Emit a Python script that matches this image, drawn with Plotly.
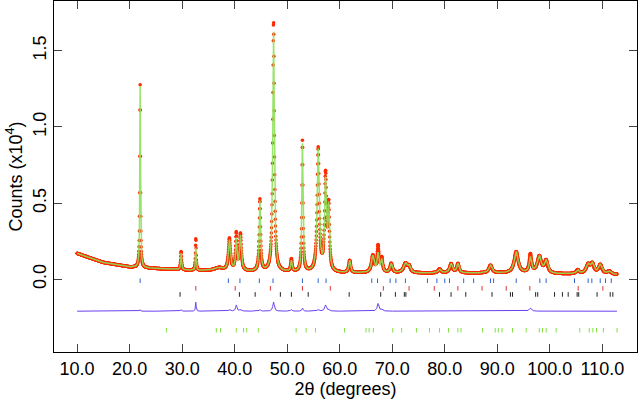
import numpy as np
import plotly.graph_objects as go

# background (2theta, counts x1e4)
bg_x = [10, 12, 15, 20, 25, 30, 35, 40, 50, 60, 70, 80, 90, 100, 112.5]
bg_y = [0.17, 0.145, 0.11, 0.08, 0.07, 0.06, 0.055, 0.05, 0.045, 0.04, 0.04, 0.04, 0.04, 0.035, 0.03]
# peaks: position, calculated height, observed height, FWHM
pk_pos = [22.0, 29.8, 32.6, 37.0, 39.0, 40.3, 41.1, 44.8, 47.4, 50.8, 52.9, 55.9, 57.3, 57.9,
          61.9, 66.3, 67.3, 68.0, 69.8, 72.5, 73.2, 79.0, 81.2, 82.5, 88.7, 93.6, 96.3, 98.0,
          99.3, 105.3, 107.3, 108.1, 109.6, 111.3]
pk_calc = [1.19, 0.11, 0.15, 0.02, 0.2, 0.2, 0.23, 0.46, 1.58, 0.07, 0.84, 0.8, 0.58, 0.4,
           0.08, 0.11, 0.12, 0.08, 0.06, 0.06, 0.04, 0.025, 0.06, 0.06, 0.05, 0.14, 0.1, 0.11,
           0.08, 0.025, 0.06, 0.06, 0.06, 0.02]
pk_obs = [1.2, 0.12, 0.21, 0.02, 0.21, 0.24, 0.24, 0.47, 1.64, 0.08, 0.86, 0.81, 0.62, 0.41,
          0.08, 0.11, 0.17, 0.09, 0.06, 0.06, 0.04, 0.025, 0.06, 0.06, 0.05, 0.14, 0.12, 0.11,
          0.08, 0.025, 0.06, 0.06, 0.06, 0.02]
pk_fwhm = [0.15, 0.2, 0.15, 2.0, 0.45, 0.3, 0.4, 0.3, 0.35, 0.3, 0.25, 0.45, 0.4, 0.35,
           0.4, 0.6, 0.4, 0.4, 0.5, 0.8, 0.6, 0.6, 0.6, 0.5, 0.7, 0.9, 0.5, 0.9,
           0.7, 0.6, 0.9, 0.7, 0.8, 0.8]

tick_blue = [22.0, 38.8, 41.0, 44.7, 47.3, 52.9, 55.9, 57.4, 66.1, 67.2, 69.6, 70.7, 72.5, 76.7, 78.5,
             80.0, 80.9, 83.6, 85.5, 88.7, 89.3, 93.6, 98.1, 99.3, 104.7, 107.3, 108.0, 109.6, 110.6, 111.7]
tick_red = [32.6, 40.1, 46.8, 52.9, 58.2, 68.3, 73.2, 78.0, 82.5, 87.1, 91.7, 96.2, 105.4, 110.1]
tick_black = [29.6, 40.9, 43.9, 48.7, 50.8, 54.0, 61.8, 67.8, 70.6, 72.3, 72.6, 79.0, 81.2, 84.0, 89.0,
              92.5, 92.9, 97.3, 97.7, 100.9, 102.4, 103.5, 105.2, 105.5, 109.0, 111.5, 112.0]
tick_green = [27.0, 36.5, 37.3, 40.3, 41.7, 42.3, 44.5, 51.7, 53.6, 55.4, 60.9, 65.0, 65.6, 66.4, 70.1,
              71.8, 74.6, 77.1, 79.0, 80.7, 82.5, 83.1, 87.2, 89.6, 90.2, 90.9, 92.9, 95.5, 98.0, 98.6,
              99.3, 101.2, 105.7, 107.5, 108.2, 108.9, 110.2, 112.8]

x = np.arange(10.0, 112.8, 0.03)
bg = np.interp(x, bg_x, bg_y)
def profile(h):
    y = bg.copy()
    for p, a, w in zip(pk_pos, h, pk_fwhm):
        y += a / (1 + ((x - p) / (w / 2)) ** 2)
    return y
calc = profile(pk_calc)
obs = profile(pk_obs)
diff = obs - calc - 0.21

def ticks(pos, yc, color):
    xs, ys = [], []
    for p in pos:
        xs += [p, p, None]; ys += [yc - 0.015, yc + 0.015, None]
    return go.Scatter(x=xs, y=ys, mode="lines", line=dict(color=color, width=1), hoverinfo="skip")

fig = go.Figure()
fig.add_trace(go.Scatter(x=x, y=obs, mode="markers", marker=dict(color="#ff2a00", size=3.5)))
fig.add_trace(go.Scatter(x=x, y=calc, mode="lines", line=dict(color="#8ee05a", width=1.5), opacity=0.9))
fig.add_trace(ticks(tick_blue, -0.01, "#3060d0"))
fig.add_trace(ticks(tick_red, -0.06, "#e03030"))
fig.add_trace(ticks(tick_black, -0.1, "#222222"))
fig.add_trace(ticks(tick_green, -0.335, "#80e040"))
fig.add_trace(go.Scatter(x=x, y=diff, mode="lines", line=dict(color="#6a40f0", width=1)))

fig.update_layout(
    width=640, height=401, showlegend=False, plot_bgcolor="white", paper_bgcolor="white",
    margin=dict(l=54, r=3, t=1, b=49),
    font=dict(family="Liberation Sans, Arial", size=18, color="black"),
    xaxis=dict(range=[5.6, 116.6], tickvals=[10, 20, 30, 40, 50, 60, 70, 80, 90, 100, 110],
               ticktext=["10.0", "20.0", "30.0", "40.0", "50.0", "60.0", "70.0", "80.0", "90.0", "100.0", "110.0"],
               ticks="inside", ticklen=8, showline=True, linecolor="black", mirror="ticks",
               showgrid=False, zeroline=False, automargin=False, tickfont=dict(size=18),
               title=dict(text="2θ (degrees)", standoff=2, font=dict(size=18))),
    yaxis=dict(range=[-0.478, 1.827], tickvals=[0, 0.5, 1.0, 1.5], ticktext=["0.0", "0.5", "1.0", "1.5"],
               tickangle=-90, ticks="inside", ticklen=8, showline=True, linecolor="black", mirror="ticks",
               showgrid=False, zeroline=False, automargin=False, tickfont=dict(size=18),
               title=dict(text="Counts (x10<sup>4</sup>)", standoff=2, font=dict(size=18))),
)
fig.write_html("out.html", config={"displayModeBar": False},
               post_script="document.body.style.margin='0';document.body.style.overflow='hidden';")
